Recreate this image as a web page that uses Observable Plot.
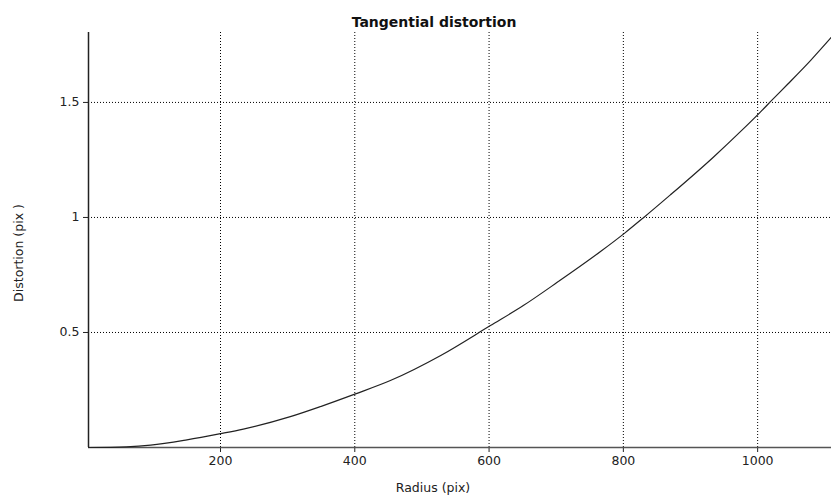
<!DOCTYPE html>
<html>
<head>
<meta charset="utf-8">
<script src="https://cdn.jsdelivr.net/npm/d3@7"></script>
<script src="https://cdn.jsdelivr.net/npm/@observablehq/plot@0.6"></script>
<style>
  html, body { margin: 0; padding: 0; background: #fff; }
  #chart svg { display: block; }
</style>
</head>
<body>
<div id="chart"></div>
<script>
// Tangential distortion versus radius, both in pixels
const radius = [3.4, 60, 96, 150, 200, 234, 304, 350, 400, 453, 528, 602, 651, 702, 766, 802, 830, 870, 934, 979, 1004, 1022, 1045, 1079, 1110];
const distortion = [0, 0.003, 0.01, 0.033, 0.06, 0.08, 0.134, 0.179, 0.232, 0.291, 0.40, 0.53, 0.617, 0.719, 0.852, 0.932, 0.999, 1.098, 1.262, 1.386, 1.458, 1.512, 1.58, 1.683, 1.784];

const xTicks = [200, 400, 600, 800, 1000];
const yTicks = [0.5, 1, 1.5];
const xDomain = [3.4, 1110];
const yDomain = [0, 1.804];

const data = radius.map((r, i) => ({radius: r, distortion: distortion[i]}));

const font = "DejaVu Sans, Verdana, sans-serif";

const chart = Plot.plot({
  width: 831,
  height: 497,
  marginLeft: 88,
  marginRight: 0,
  marginTop: 32,
  marginBottom: 50,
  style: {fontFamily: font, fontSize: "12.5px", color: "#222", background: "#fff"},
  x: {domain: xDomain},
  y: {domain: yDomain},
  marks: [
    Plot.gridX(xTicks, {stroke: "#000", strokeOpacity: 1, strokeDasharray: "1,2"}),
    Plot.gridY(yTicks, {stroke: "#000", strokeOpacity: 1, strokeDasharray: "1,2"}),
    Plot.axisX(xTicks, {tickSize: 5, tickPadding: 4, fontSize: 12.5, tickFormat: d => String(d), label: null}),
    Plot.axisY(yTicks, {tickSize: 5, tickPadding: 4, fontSize: 12.5, tickFormat: d => String(d), label: null}),
    Plot.ruleY([0], {stroke: "#555", strokeWidth: 1.5}),
    Plot.ruleX([xDomain[0]], {stroke: "#222", strokeWidth: 1.5}),
    Plot.line(data, {x: "radius", y: "distortion", stroke: "#222", strokeWidth: 1.2, curve: "monotone-x"}),
    // axis titles and chart title
    Plot.text(["Radius (pix)"], {frameAnchor: "bottom", textAnchor: "middle", dx: -27, dy: 44, fontSize: 12.5, fill: "#222"}),
    Plot.text(["Distortion (pix )"], {frameAnchor: "left", textAnchor: "middle", rotate: -90, dx: -70, dy: 13, fontSize: 12.5, fill: "#222"}),
    Plot.text(["Tangential distortion"], {frameAnchor: "top", textAnchor: "middle", dx: -26, dy: -15, fontWeight: "bold", fontSize: 14, fill: "#111"})
  ]
});

document.getElementById("chart").append(chart);
</script>
</body>
</html>
